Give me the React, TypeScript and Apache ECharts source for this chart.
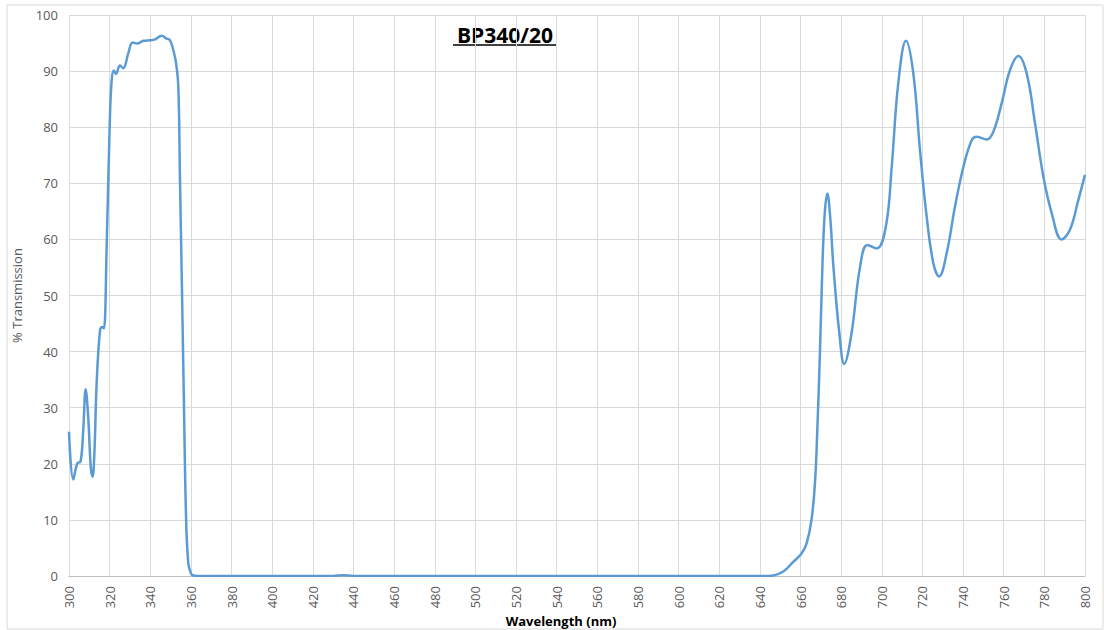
import React, { useEffect, useRef } from "react";
import * as echarts from "echarts";

const wavelengths = [
  300, 302.1, 304.1, 305.7, 307, 308.2, 309.5, 310.7, 311.6, 312.5, 313.6, 315.3, 316.4, 317.2, 318.5, 320, 321,
  322.1, 323.1, 325.1, 326.7, 329.2, 331.3, 333.6, 336.6, 340, 342, 345.6, 348, 349.7, 351.5, 352.7, 353.8,
  354.6, 355.5, 356.6, 357.6, 358.7, 360, 361.2, 365, 400, 430, 435, 440, 500, 600, 640, 646.6, 651.5,
  656.4, 660.5, 663, 665.4, 667.1, 668.2, 669.6, 670.5, 671.8, 673.2, 674.6, 676.2, 679.1, 681.5, 685,
  689.3, 692.9, 697.5, 702, 704.9, 708.1, 711.9, 715.5, 718.8, 722.1, 725.4, 728.2, 731.9, 736, 740.2,
  744.3, 746.7, 751.6, 754.9, 759, 763.1, 767.2, 771.3, 775.4, 779.5, 783.6, 788.5, 792.6, 796.7, 800,
];

const transmission = [
  25.7, 17.2, 20.1, 20.4, 26, 33.3, 28, 19.5, 17.7, 22, 34.3, 43.9, 44.4, 44.1, 58.1, 80, 88.4,
  90.1, 89.5, 91.0, 90.5, 93.2, 95.1, 94.9, 95.4, 95.5, 95.6, 96.3, 95.8, 95.5, 93.5, 91.4, 87.2,
  71, 53, 30, 10.6, 2.3, 0.5, 0.1, 0, 0, 0, 0.15, 0, 0, 0, 0, 0.1, 0.8,
  2.5, 4.0, 5.8, 10, 16.5, 25.4, 40.3, 52, 64, 68.2, 64, 55.1, 43.3, 37.8, 43,
  55.1, 59.0, 58.4, 62.3, 73.0, 87.8, 95.4, 89.6, 75.9, 64.0, 55.7, 53.4, 57.5, 65.8, 73.0,
  77.7, 78.3, 77.8, 79.2, 84.3, 90.2, 92.7, 89.6, 80.7, 71.2, 64.7, 60.0, 61.7, 67.0, 71.5,
];

const titleText = "BP340/20";
const xAxisTitle = "Wavelength (nm)";
const yAxisTitle = "% Transmission";

export default function App() {
  const ref = useRef<HTMLDivElement>(null);
  useEffect(() => {
    if (!ref.current) return;
    const chart = echarts.init(ref.current, undefined, { renderer: "svg" });
    const data = wavelengths.map((w, i) => [w, transmission[i]]);
    const font = "Open Sans, Liberation Sans, sans-serif";
    chart.setOption({
      animation: false,
      backgroundColor: "#ffffff",
      grid: { left: 69, right: 19, top: 15, bottom: 54, containLabel: false },
      xAxis: {
        type: "value",
        min: 300,
        max: 800,
        interval: 20,
        axisLine: { show: true, lineStyle: { color: "#bfbfbf", width: 1 } },
        axisTick: { show: false },
        splitLine: { show: true, lineStyle: { color: "#d9d9d9", width: 1 } },
        axisLabel: { rotate: 90, margin: 10, color: "#595959", fontSize: 13, fontFamily: font },
      },
      yAxis: {
        type: "value",
        min: 0,
        max: 100,
        interval: 10,
        name: yAxisTitle,
        nameLocation: "middle",
        nameGap: 46,
        nameTextStyle: { color: "#595959", fontSize: 13, fontFamily: font },
        axisLine: { show: false },
        axisTick: { show: false },
        splitLine: { show: true, lineStyle: { color: "#d9d9d9", width: 1 } },
        axisLabel: { margin: 11, color: "#595959", fontSize: 13, fontFamily: font },
      },
      graphic: [
        {
          type: "rect",
          shape: { x: 7, y: 5, width: 1096, height: 624 },
          style: { fill: "none", stroke: "#d9d9d9", lineWidth: 1 },
          silent: true,
        },
        {
          type: "text",
          x: 505,
          y: 35,
          style: {
            text: titleText,
            fill: "#000000",
            font: "bold 21px " + font,
            textAlign: "center",
            textVerticalAlign: "middle",
          },
        },
        {
          type: "line",
          shape: { x1: 453, y1: 45, x2: 557, y2: 45 },
          style: { stroke: "#000000", lineWidth: 1.5 },
        },
        {
          type: "text",
          x: 561,
          y: 621,
          style: {
            text: xAxisTitle,
            fill: "#000000",
            font: "bold 13px " + font,
            textAlign: "center",
            textVerticalAlign: "middle",
          },
        },
      ],
      series: [
        {
          type: "line",
          data,
          showSymbol: false,
          smooth: 0.4,
          lineStyle: { color: "#5b9bd5", width: 2.5 },
          itemStyle: { color: "#5b9bd5" },
        },
      ],
    });
    return () => chart.dispose();
  }, []);
  return (
    <div
      ref={ref}
      style={{ position: "fixed", left: 0, top: 0, width: 1104, height: 630 }}
    />
  );
}
